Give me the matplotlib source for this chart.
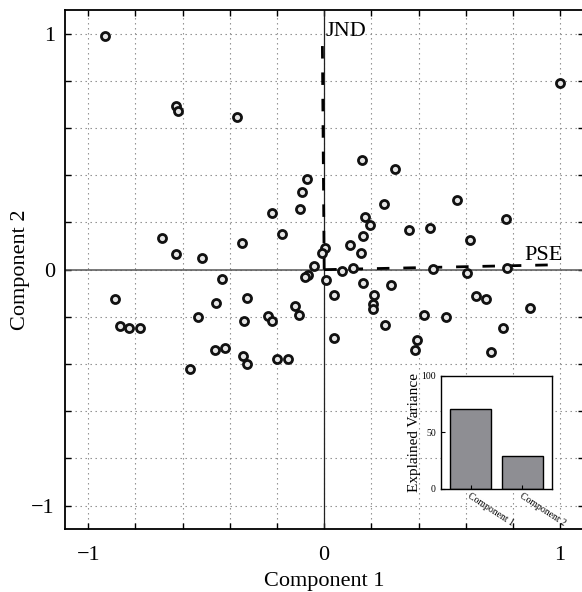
import matplotlib
matplotlib.use("Agg")
import matplotlib.pyplot as plt
from matplotlib.ticker import FixedLocator, FuncFormatter

plt.rcParams['font.family'] = ['Liberation Serif', 'DejaVu Serif']
plt.rcParams['lines.scale_dashes'] = False

# PCA scores (component 1, component 2)
comp1 = [-0.927, -0.628, -0.619, -0.371, -0.071, -0.094, -0.102, -0.221, -0.180, -0.687,
         -0.348, -0.628, -0.518, 0.002, -0.011, -0.042, 1.001, 0.160, 0.302, 0.254,
         0.563, 0.175, 0.196, 0.769, 0.358, 0.447, 0.166, 0.108, 0.156, 0.619,
         -0.069, -0.080, 0.009, -0.433, -0.888, -0.457, -0.327, -0.125, -0.108, -0.533,
         -0.340, -0.239, -0.221, -0.865, -0.828, -0.781, -0.464, -0.419, -0.345, -0.327,
         -0.201, -0.153, -0.567, 0.076, 0.122, 0.461, 0.604, 0.775, 0.043, 0.166,
         0.210, 0.283, 0.207, 0.206, 0.256, 0.040, 0.643, 0.687, 0.871, 0.422,
         0.516, 0.758, 0.392, 0.383, 0.707]
comp2 = [0.990, 0.694, 0.674, 0.646, 0.386, 0.329, 0.259, 0.242, 0.153, 0.136,
         0.114, 0.068, 0.048, 0.091, 0.072, 0.017, 0.790, 0.464, 0.428, 0.280,
         0.294, 0.225, 0.188, 0.215, 0.170, 0.177, 0.144, 0.103, 0.072, 0.126,
         -0.022, -0.030, -0.044, -0.041, -0.126, -0.140, -0.120, -0.154, -0.193, -0.199,
         -0.216, -0.196, -0.219, -0.239, -0.246, -0.248, -0.342, -0.333, -0.366, -0.401,
         -0.380, -0.377, -0.422, -0.004, 0.008, 0.003, -0.013, 0.006, -0.106, -0.058,
         -0.106, -0.065, -0.147, -0.168, -0.236, -0.291, -0.111, -0.126, -0.164, -0.192,
         -0.202, -0.248, -0.298, -0.340, -0.350]

# loading vectors
jnd_vec = [-0.008, 1.0]
pse_vec = [0.95, 0.02]

var_labels = ['Component 1', 'Component 2']
var_values = [71, 29]

fig = plt.figure(figsize=(5.82, 5.92), dpi=100)
ax = fig.add_axes([0.111, 0.106, 0.892, 0.877])

ticks = [-1, -0.8, -0.6, -0.4, -0.2, 0, 0.2, 0.4, 0.6, 0.8, 1]
def fmt(v, pos):
    if abs(v - round(v)) < 1e-9:
        return '\u2212%d' % abs(round(v)) if v < 0 else '%d' % round(v)
    return ''

ax.xaxis.set_major_locator(FixedLocator(ticks))
ax.yaxis.set_major_locator(FixedLocator(ticks))
ax.xaxis.set_major_formatter(FuncFormatter(fmt))
ax.yaxis.set_major_formatter(FuncFormatter(fmt))
ax.set_xlim(-1.1, 1.1)
ax.set_ylim(-1.1, 1.1)
ax.grid(True, linestyle=(0, (1, 2.6)), color='#8a8a8a', linewidth=0.8)
ax.set_axisbelow(True)
ax.tick_params(direction='in', top=True, right=True, length=4, width=1, labelsize=16)
ax.tick_params(axis='x', pad=12)
ax.tick_params(axis='y', pad=7)
for s in ax.spines.values():
    s.set_linewidth(1.3)

ax.axhline(0, color='#555555', lw=1.1, zorder=2)
ax.axvline(0, color='#222222', lw=0.9, zorder=2)

ax.plot([0, jnd_vec[0]], [0, jnd_vec[1]], color='k', lw=2, dashes=(9, 10), zorder=3)
ax.plot([0, pse_vec[0]], [0, pse_vec[1]], color='k', lw=2, dashes=(9, 10), zorder=3)

ax.plot(comp1, comp2, 'o', ms=5.8, mfc='#e6e6e6', mec='#111111', mew=2.0, zorder=4)

ax.text(0.005, 0.99, 'JND', fontsize=16, ha='left', va='baseline')
ax.text(0.847, 0.041, 'PSE', fontsize=16, ha='left', va='baseline')

ax.set_xlabel('Component 1', fontsize=16, labelpad=5)
ax.set_ylabel('Component 2', fontsize=16, labelpad=1)

# inset: explained variance
ins = fig.add_axes([0.757, 0.174, 0.191, 0.191])
ins.bar([1, 2], var_values, width=0.8, color='#8e8e93', edgecolor='k', linewidth=1)
ins.set_xlim(0.414, 2.567)
ins.set_ylim(0, 100)
ins.set_yticks([0, 50, 100])
ins.set_xticks([1, 2])
ins.set_xticklabels(var_labels, rotation=-33, ha='left', va='top',
                    rotation_mode='anchor', fontsize=7)
ins.tick_params(direction='in', labelsize=7, length=3, top=False, right=False)
ins.tick_params(axis='x', pad=2)
ins.set_ylabel('Explained Variance', fontsize=11, labelpad=0)
for s in ins.spines.values():
    s.set_linewidth(1)

fig.savefig('out.png', dpi=100)
